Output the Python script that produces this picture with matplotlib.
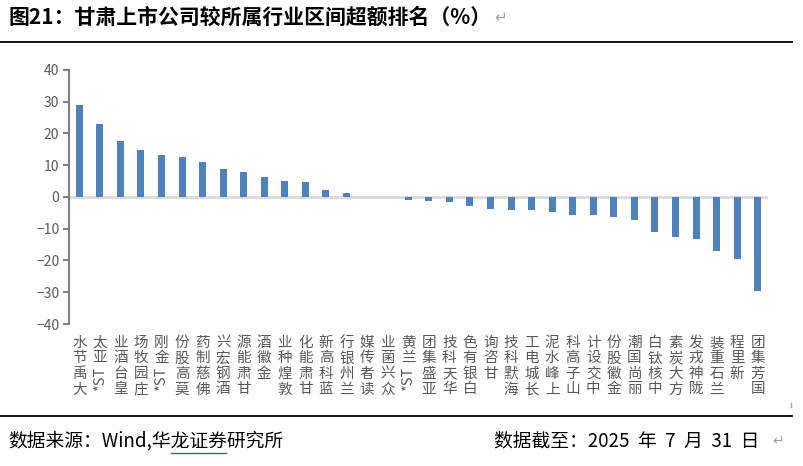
import re
import matplotlib
matplotlib.use("Agg")
import matplotlib.pyplot as plt
from matplotlib.transforms import blended_transform_factory, offset_copy
from matplotlib.textpath import TextPath
from matplotlib.font_manager import FontProperties
from matplotlib.lines import Line2D

plt.rcParams['font.family'] = ['Noto Sans CJK SC', 'DejaVu Sans']

companies = ["大禹节水", "*ST亚太", "皇台酒业", "庄园牧场", "*ST金刚", "莫高股份",
             "佛慈制药", "酒钢宏兴", "甘肃能源", "金徽酒", "敦煌种业", "甘肃能化",
             "蓝科高新", "兰州银行", "读者传媒", "众兴菌业", "*ST兰黄", "亚盛集团",
             "华天科技", "白银有色", "甘咨询", "海默科技", "长城电工", "上峰水泥",
             "山子高科", "中交设计", "金徽股份", "丽尚国潮", "中核钛白", "方大炭素",
             "陇神戎发", "兰石重装", "新里程", "国芳集团"]
excess = [28.9, 22.9, 17.6, 14.7, 13.2, 12.5, 10.9, 8.7, 7.8, 6.2, 4.9, 4.6,
          2.1, 1.3, 0.0, 0.0, -0.9, -1.3, -1.6, -2.8, -3.8, -4.1, -4.1, -4.7,
          -5.6, -5.6, -6.3, -7.2, -11.0, -12.6, -13.2, -17.0, -19.5, -29.7]
yticks = [40, 30, 20, 10, 0, -10, -20, -30, -40]

fig = plt.figure(figsize=(8.04, 4.66), dpi=100)
ax = fig.add_axes([69 / 804, 1 - 324 / 466, (768 - 69) / 804, (324 - 70) / 466])

x = range(len(companies))
ax.bar(x, excess, width=0.34, color="#4F81BD", zorder=2)
ax.axhline(0, color="#D9D9D9", lw=2, zorder=1)

ax.set_xlim(-0.5, len(companies) - 0.5)
ax.set_ylim(-40, 40)
ax.set_yticks(yticks)
ax.tick_params(axis="y", colors="#595959", labelsize=10, length=4, width=1.5, direction="out", pad=3)
ax.tick_params(axis="y", color="#808080")
ax.set_xticks([])
for s in ["top", "right", "bottom"]:
    ax.spines[s].set_visible(False)
ax.spines["left"].set_color("#808080")
ax.spines["left"].set_linewidth(1.5)

# vertical labels: CJK characters upright, latin runs rotated
fs = 10.5
step = 11.2
fp = FontProperties(family="Noto Sans CJK SC", size=fs)
base = blended_transform_factory(ax.transData, ax.transAxes)
for i, name in enumerate(companies):
    chunks = re.findall(r"[\x00-\x7f]+|.", name)
    off = 8.5
    for ch in reversed(chunks):
        tr = offset_copy(base, fig=fig, x=0, y=-off, units="points")
        if ch.isascii():
            w = TextPath((0, 0), ch, size=fs, prop=fp).get_extents().width + 2
            ax.text(i, 0, ch, transform=tr, rotation=90, ha="center", va="top",
                    fontsize=fs, color="#595959", clip_on=False)
            off += w
        else:
            ax.text(i, 0, ch, transform=tr, ha="center", va="top",
                    fontsize=fs, color="#595959", clip_on=False)
            off += step

# title, rules and footer
fig.text(8 / 804, 1 - 17 / 466, "图21：甘肃上市公司较所属行业区间超额排名（%）", fontsize=15,
         fontweight="bold", va="center", ha="left")
fig.text(494 / 804, 1 - 17 / 466, "↵", fontsize=11, color="#A0A0A0", va="center",
         family=["DejaVu Sans"])
fig.add_artist(Line2D([0, 792 / 804], [1 - 41.5 / 466] * 2, color="black", lw=1.3))
fig.add_artist(Line2D([0, 792 / 804], [1 - 416 / 466] * 2, color="black", lw=1.3))
fig.add_artist(Line2D([791 / 804] * 2, [1 - 403 / 466, 1 - 407 / 466], color="#A0A0A0", lw=1))

src = "数据来源：Wind,华龙证券研究所"
ffs = 13.5
fig.text(8 / 804, 1 - 441 / 466, src, fontsize=ffs,
         fontweight="medium", va="center", ha="left")
# underline below 龙证券
fpf = FontProperties(family="Noto Sans CJK SC", size=ffs, weight="medium")
x0 = 8 + TextPath((0, 0), src[:src.index("龙")], size=ffs, prop=fpf).get_extents().width * 100 / 72
x1 = 8 + TextPath((0, 0), src[:src.index("研")], size=ffs, prop=fpf).get_extents().width * 100 / 72
fig.add_artist(Line2D([(x0 + 2) / 804, (x1 + 1) / 804], [1 - 453 / 466] * 2, color="#2E5EC9", lw=1))
fig.text(494 / 804, 1 - 441 / 466, "数据截至：2025  年  7  月  31  日", fontsize=ffs,
         fontweight="medium", va="center", ha="left")
fig.text(772 / 804, 1 - 441 / 466, "↵", fontsize=10, color="#A0A0A0", va="center",
         ha="left", family=["DejaVu Sans"])

fig.savefig("out.png", dpi=100)
